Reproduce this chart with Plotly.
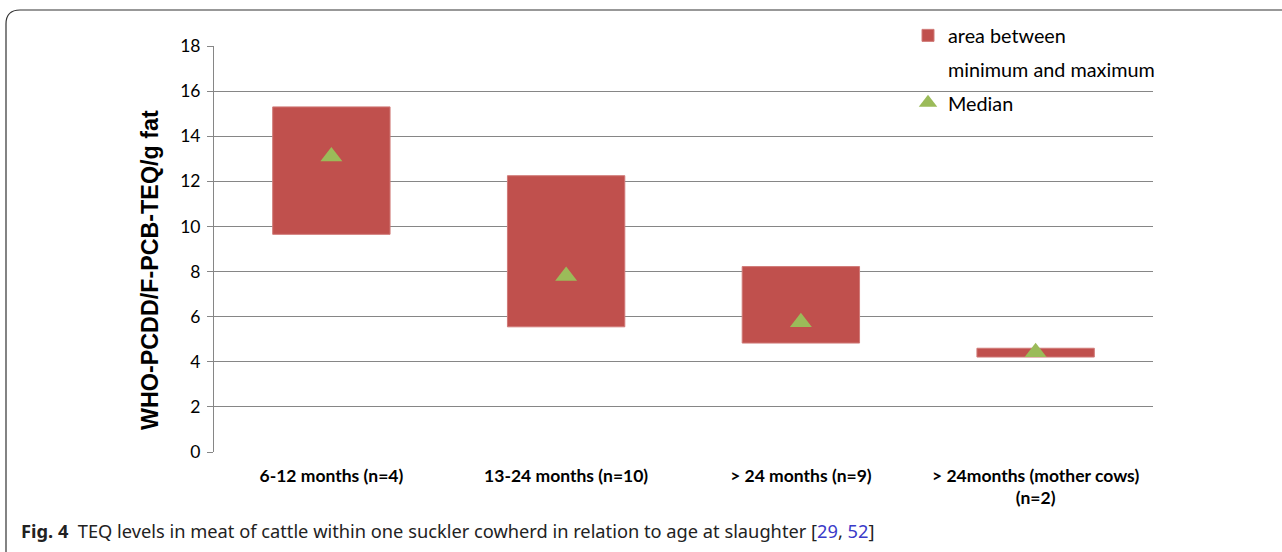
import plotly.graph_objects as go

categories = ["6-12 months (n=4)", "13-24 months (n=10)", "> 24 months (n=9)",
              "> 24months (mother cows)<br>(n=2)"]
minimum = [9.65, 5.55, 4.83, 4.21]
maximum = [15.3, 12.25, 8.22, 4.6]
median = [13.1, 7.8, 5.75, 4.42]

W, H = 1282, 552
L, R, T, B = 214, 129, 46, 100
pw, ph = W - L - R, H - T - B

def px(x):
    return (x - L) / pw

def py(y):
    return (H - B - y) / ph

fig = go.Figure()
fig.add_trace(go.Bar(
    x=categories, y=[a - b for a, b in zip(maximum, minimum)], base=minimum,
    width=0.5, name="area between", legendgroup="a",
    marker=dict(color="#C0504D", line=dict(color="#D07A78", width=1)),
))
fig.add_trace(go.Scatter(
    x=[None], y=[None], mode="markers", name="minimum and maximum",
    legendgroup="b", marker=dict(size=1, color="rgba(0,0,0,0)"),
))
fig.add_trace(go.Scatter(
    x=categories, y=median, mode="markers", name="Median", legendgroup="c",
    marker=dict(symbol="triangle-up", size=19, color="#9BBB59"),
))

gray = "#868686"
fig.update_layout(
    width=W, height=H,
    margin=dict(l=L, r=R, t=T, b=B),
    paper_bgcolor="white", plot_bgcolor="white",
    font=dict(family="Lato, Carlito, sans-serif", size=16, color="#000"),
    showlegend=True,
    legend=dict(x=px(908), y=py(16), xanchor="left", yanchor="top",
                bgcolor="rgba(0,0,0,0)", font=dict(size=19.8, family="Lato, sans-serif"),
                traceorder="grouped", tracegroupgap=5, itemwidth=30),
    xaxis=dict(showgrid=False, showline=False, ticks="",
               tickfont=dict(family="Lato, sans-serif", size=17.5, color="#000", weight="bold"),
               ticklabelstandoff=11, range=[-0.5, 3.5]),
    yaxis=dict(range=[0, 18], dtick=2, showgrid=True, gridcolor=gray, gridwidth=1,
               zeroline=False, showline=True, linecolor=gray, linewidth=1,
               ticks="outside", ticklen=6, tickcolor=gray, ticklabelstandoff=3,
               tickfont=dict(family="Lato, sans-serif", size=17.5, color="#000")),
    bargap=0.5,
)

fig.add_annotation(
    xref="paper", yref="paper", x=px(150), y=py(270), xanchor="center", yanchor="middle",
    text="WHO-PCDD/F-PCB-TEQ/g fat", textangle=-90, showarrow=False,
    font=dict(family="Liberation Sans, Arial, sans-serif", size=23.3, color="#000", weight="bold"),
)

fig.add_annotation(
    xref="paper", yref="paper", x=px(19), y=py(530), xanchor="left", yanchor="middle",
    text="<b>Fig. 4</b>  TEQ levels in meat of cattle within one suckler cowherd in relation to age at slaughter [<span style='color:#3A3AC8'>29</span>, <span style='color:#3A3AC8'>52</span>]",
    showarrow=False, font=dict(family="Noto Sans, sans-serif", size=18.25, color="#222"),
)

# rounded frame around figure
x0, y0, x1, y1, r = 6, 10, 1300, 570, 14
path = (f"M {px(x0)},{py(y1)} L {px(x0)},{py(y0 + r)} "
        f"Q {px(x0)},{py(y0)} {px(x0 + r)},{py(y0)} L {px(x1)},{py(y0)}")
fig.add_shape(type="path", xref="paper", yref="paper", path=path,
              line=dict(color="#333", width=1.2), layer="above")

fig.write_html("out.html", config={"displayModeBar": False},
               post_script="document.body.style.margin='0px';")
